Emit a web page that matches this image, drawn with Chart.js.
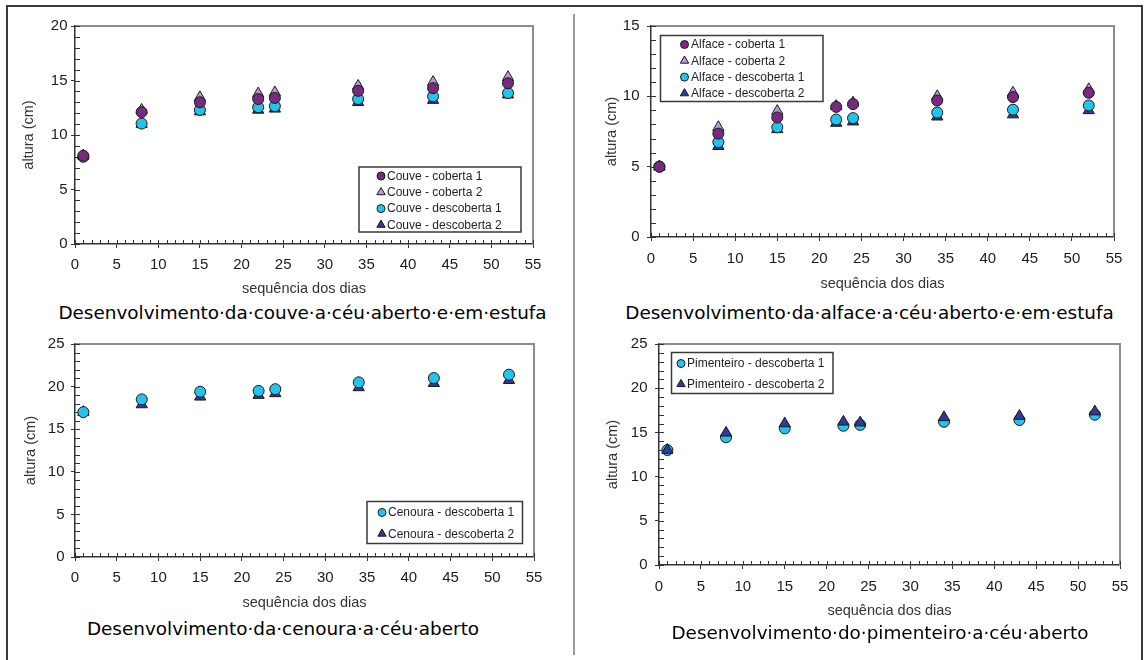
<!DOCTYPE html>
<html>
<head>
<meta charset="utf-8">
<script src="https://cdn.jsdelivr.net/npm/chart.js@4/dist/chart.umd.min.js"></script>
<style>
  html, body { margin: 0; padding: 0; background: #fff; }
  body { width: 1145px; height: 660px; position: relative; overflow: hidden; }
  canvas { position: absolute; }
  .line { position: absolute; }
  .cap { position: absolute; font-family: "DejaVu Sans", sans-serif; font-size: 18.4px; line-height: 18.4px;
         color: #000; white-space: nowrap; transform: translateX(-50%); }
</style>
</head>
<body>
<div class="line" style="left:6px; top:5px; width:1137px; height:2px; background:#3a3a3a;"></div>
<div class="line" style="left:6px; top:5px; width:1.5px; height:660px; background:#3a3a3a;"></div>
<div class="line" style="left:1141px; top:5px; width:1.5px; height:660px; background:#3a3a3a;"></div>
<div class="line" style="left:572.5px; top:14px; width:2px; height:641px; background:#9a9a9a;"></div>

<canvas id="cA" width="550" height="292" style="left:8px; top:8px;"></canvas>
<canvas id="cB" width="560" height="292" style="left:580px; top:8px;"></canvas>
<canvas id="cC" width="550" height="292" style="left:8px; top:326px;"></canvas>
<canvas id="cD" width="560" height="300" style="left:580px; top:326px;"></canvas>

<div class="cap" style="left:302.5px; top:303.5px;">Desenvolvimento·da·couve·a·céu·aberto·e·em·estufa</div>
<div class="cap" style="left:869.5px; top:303.5px;">Desenvolvimento·da·alface·a·céu·aberto·e·em·estufa</div>
<div class="cap" style="left:283px; top:620.3px;">Desenvolvimento·da·cenoura·a·céu·aberto</div>
<div class="cap" style="left:880px; top:624.3px;">Desenvolvimento·do·pimenteiro·a·céu·aberto</div>

<script>
// ---- data ----
const days = [1, 8, 15, 22, 24, 34, 43, 52];

const couveCoberta1     = [8.1, 12.1, 13.0, 13.3, 13.4, 14.05, 14.3, 14.75];
const couveCoberta2     = [8.1, 12.3, 13.45, 13.8, 13.9, 14.5, 14.85, 15.3];
const couveDescoberta1  = [8.0, 11.05, 12.3, 12.55, 12.65, 13.3, 13.55, 13.85];
const couveDescoberta2  = [8.1, 11.0, 12.15, 12.3, 12.4, 13.0, 13.2, 13.7];

const alfaceCoberta1    = [5.0, 7.35, 8.5, 9.25, 9.45, 9.7, 9.95, 10.25];
const alfaceCoberta2    = [5.0, 7.8, 8.95, 9.3, 9.55, 10.0, 10.25, 10.5];
const alfaceDescoberta1 = [5.0, 6.75, 7.8, 8.35, 8.45, 8.85, 9.05, 9.35];
const alfaceDescoberta2 = [5.0, 6.45, 7.65, 8.1, 8.2, 8.55, 8.7, 9.0];

const cenouraDescoberta1 = [17.0, 18.5, 19.4, 19.5, 19.7, 20.5, 21.0, 21.4];
const cenouraDescoberta2 = [17.0, 17.9, 18.8, 19.0, 19.2, 19.9, 20.4, 20.75];

const pimenteiroDescoberta1 = [13.0, 14.45, 15.45, 15.75, 15.85, 16.2, 16.4, 17.0];
const pimenteiroDescoberta2 = [13.0, 14.95, 16.0, 16.2, 16.1, 16.7, 16.85, 17.35];

const xTitle = 'sequência dos dias';
const yTitle = 'altura (cm)';

// ---- styles ----
const ST = {
  c1: { pointStyle: 'circle',   backgroundColor: '#7a2a7e', radius: 5.5 },
  c2: { pointStyle: 'triangle', backgroundColor: '#b79bd6', radius: 6.5 },
  d1: { pointStyle: 'circle',   backgroundColor: '#22c3ec', radius: 5.5 },
  d2: { pointStyle: 'triangle', backgroundColor: '#2e3a9c', radius: 6.5 }
};

function ds(label, values, st, order) {
  return {
    label,
    data: values.map((v, i) => ({ x: days[i], y: v })),
    pointStyle: st.pointStyle,
    backgroundColor: st.backgroundColor,
    borderColor: '#1a1a1a',
    pointBorderWidth: 1,
    pointRadius: st.radius,
    pointHoverRadius: st.radius,
    showLine: false,
    order: order || 0
  };
}

const FONT = '"Liberation Sans", Arial, sans-serif';

const frame = {
  id: 'frame',
  beforeDatasetsDraw(chart) {
    const { ctx, chartArea: a, scales: { x, y } } = chart;
    ctx.save();
    ctx.strokeStyle = '#8c8c8c';
    ctx.lineWidth = 2;
    ctx.beginPath();
    ctx.moveTo(a.left, a.top); ctx.lineTo(a.right, a.top); ctx.lineTo(a.right, a.bottom);
    ctx.stroke();
    ctx.strokeStyle = '#333';
    ctx.lineWidth = 1;
    ctx.beginPath();
    for (let v = x.min; v <= x.max; v += 1) {
      const px = Math.round(x.getPixelForValue(v)) + 0.5;
      ctx.moveTo(px, a.bottom); ctx.lineTo(px, a.bottom - 4);
    }
    for (let v = y.min; v <= y.max; v += 1) {
      const py = Math.round(y.getPixelForValue(v)) + 0.5;
      ctx.moveTo(a.left, py); ctx.lineTo(a.left + 5, py);
    }
    ctx.stroke();
    ctx.restore();
  }
};

const boxLegend = {
  id: 'boxLegend',
  afterDatasetsDraw(chart, args, o) {
    const ctx = chart.ctx;
    ctx.save();
    ctx.fillStyle = '#fff';
    ctx.fillRect(o.x, o.y, o.w, o.h);
    ctx.strokeStyle = '#3a3a3a';
    ctx.lineWidth = 1.5;
    ctx.strokeRect(o.x, o.y, o.w, o.h);
    chart.data.datasets.forEach((d, i) => {
      const cy = o.y + o.first + i * o.row;
      ctx.fillStyle = d.backgroundColor;
      ctx.strokeStyle = d.borderColor;
      ctx.lineWidth = 1;
      Chart.helpers.drawPoint(ctx, {
        pointStyle: d.pointStyle, rotation: 0,
        radius: d.pointStyle === 'triangle' ? 4.8 : 4, borderWidth: 1
      }, o.x + o.mx, cy);
      ctx.fillStyle = '#1e1e2a';
      ctx.font = '12px ' + FONT;
      ctx.textBaseline = 'middle';
      ctx.textAlign = 'left';
      ctx.fillText(d.label, o.x + o.tx, cy + 0.5);
    });
    ctx.restore();
  }
};

function makeChart(id, datasets, yMax, lay) {
  new Chart(document.getElementById(id), {
    type: 'scatter',
    data: { datasets },
    options: {
      responsive: false,
      animation: false,
      devicePixelRatio: 1,
      layout: { padding: lay.pad },
      plugins: {
        legend: { display: false },
        tooltip: { enabled: false },
        boxLegend: lay.legend
      },
      scales: {
        x: {
          type: 'linear', min: 0, max: 55,
          afterFit: s => { s.height = lay.xh; },
          ticks: { stepSize: 5, autoSkip: false, maxRotation: 0, padding: lay.xtp,
                   color: '#1a1a24', font: { family: FONT, size: 15 } },
          grid: { display: true, drawOnChartArea: false, drawTicks: true, tickLength: 4, color: '#333' },
          border: { display: true, color: '#333', width: 1.5 },
          title: { display: true, text: xTitle, color: '#333',
                   font: { family: FONT, size: 14.5 }, padding: { top: 0, bottom: lay.xttp } }
        },
        y: {
          type: 'linear', min: 0, max: yMax,
          afterFit: s => { s.width = lay.yw; },
          ticks: { stepSize: 5, padding: lay.ytp,
                   color: '#1a1a24', font: { family: FONT, size: 15 } },
          grid: { display: true, drawOnChartArea: false, drawTicks: true, tickLength: 4, color: '#333' },
          border: { display: true, color: '#333', width: 1.5 },
          title: { display: true, text: yTitle, color: '#333',
                   font: { family: FONT, size: 14.5 }, padding: { top: 4, bottom: 0 } }
        }
      }
    },
    plugins: [frame, boxLegend]
  });
}

makeChart('cA', [
  ds('Couve - coberta 1', couveCoberta1, ST.c1),
  ds('Couve - coberta 2', couveCoberta2, ST.c2),
  ds('Couve - descoberta 1', couveDescoberta1, ST.d1),
  ds('Couve - descoberta 2', couveDescoberta2, ST.d2)
], 20, {
  pad: { left: 8, top: 18, right: 25, bottom: 0 }, yw: 59, xh: 56, xtp: 8, ytp: 3.5, xttp: 2,
  legend: { x: 351, y: 159, w: 162, h: 65, first: 9, row: 16.3, mx: 22, tx: 28 }
});

makeChart('cB', [
  ds('Alface - coberta 1', alfaceCoberta1, ST.c1),
  ds('Alface - coberta 2', alfaceCoberta2, ST.c2),
  ds('Alface - descoberta 1', alfaceDescoberta1, ST.d1),
  ds('Alface - descoberta 2', alfaceDescoberta2, ST.d2)
], 15, {
  pad: { left: 19, top: 18, right: 26, bottom: 0 }, yw: 52, xh: 63, xtp: 9, ytp: 7.5, xttp: 7,
  legend: { x: 80.5, y: 27.5, w: 162.5, h: 66, first: 9, row: 16.3, mx: 24, tx: 30.5 }
});

makeChart('cC', [
  ds('Cenoura - descoberta 1', cenouraDescoberta1, ST.d1),
  ds('Cenoura - descoberta 2', cenouraDescoberta2, ST.d2)
], 25, {
  pad: { left: 10, top: 18, right: 24, bottom: 0 }, yw: 57, xh: 61, xtp: 7.5, ytp: 6.5, xttp: 6.5,
  legend: { x: 359, y: 175.5, w: 155.5, h: 42, first: 11, row: 21.3, mx: 15, tx: 21 }
});

makeChart('cD', [
  ds('Pimenteiro - descoberta 1', pimenteiroDescoberta1, ST.d1, 1),
  ds('Pimenteiro - descoberta 2', pimenteiroDescoberta2, ST.d2, 0)
], 25, {
  pad: { left: 20, top: 18, right: 20, bottom: 0 }, yw: 59, xh: 61, xtp: 9, ytp: 7.5, xttp: 6,
  legend: { x: 91.5, y: 26.5, w: 161.5, h: 41, first: 11, row: 20.7, mx: 9.5, tx: 15.5 }
});
</script>
</body>
</html>
